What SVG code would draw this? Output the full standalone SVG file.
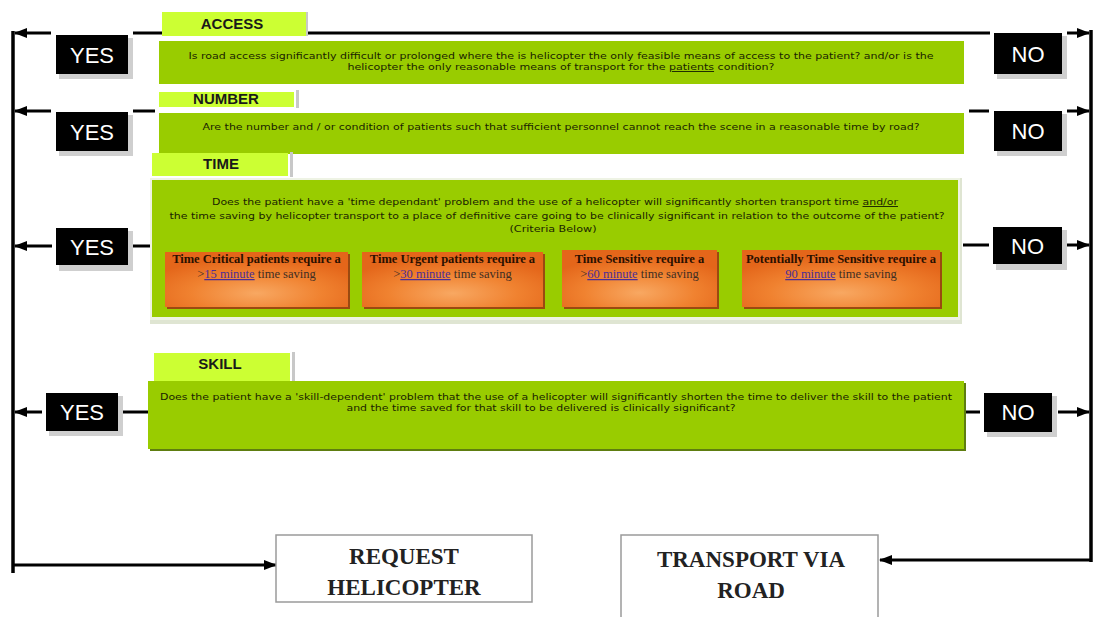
<svg xmlns="http://www.w3.org/2000/svg" width="1096" height="617" viewBox="0 0 1096 617">
<style>
.tab{fill:#ccff33}
.tabedge{fill:#c8c8c8}
.qbox{fill:#99cc00}
.qtext{font-family:"DejaVu Sans","Liberation Sans",sans-serif;font-size:9.5px;fill:#1a2400;text-anchor:middle}
.tabtext{font-family:"Liberation Sans",Arial,sans-serif;font-weight:bold;font-size:15px;fill:#1a1a1a;text-anchor:middle}
.ynb{fill:#000}
.yns{fill:#cfcfcf}
.ynt{font-family:"Liberation Sans",Arial,sans-serif;font-size:22px;fill:#fff;text-anchor:middle}
.ln{stroke:#000;stroke-width:3;fill:none}
.vl{stroke:#000;stroke-width:3.5;fill:none}
.ob{fill:url(#og)}
.obs{fill:#9a4a10}
.ot1{font-family:"Liberation Serif","Times New Roman",serif;font-weight:bold;font-size:12.5px;fill:#2a1000;text-anchor:middle}
.ot2{font-family:"Liberation Serif","Times New Roman",serif;font-size:12.5px;fill:#3e2e24;text-anchor:middle}
.lk{fill:#4b2d96;text-decoration:underline}
.ul{text-decoration:underline}
.eb{fill:#fff;stroke:#9a9a9a;stroke-width:1.5}
.et{font-family:"Liberation Serif","Times New Roman",serif;font-weight:bold;font-size:23px;fill:#222;text-anchor:middle}
</style>
<defs>
<marker id="ah" markerUnits="userSpaceOnUse" markerWidth="13" markerHeight="10" refX="12" refY="5" orient="auto">
<path d="M0,0 L13,5 L0,10 z" fill="#000"/>
</marker>
<radialGradient id="og" cx="0.5" cy="0.75" r="0.65">
<stop offset="0" stop-color="#f8a862"/>
<stop offset="0.55" stop-color="#f08230"/>
<stop offset="1" stop-color="#e4661a"/>
</radialGradient>
</defs>
<rect width="1096" height="617" fill="#fff"/>

<g id="connectors">
<line class="vl" x1="13" y1="31" x2="13" y2="573"/>
<line class="vl" x1="1091" y1="30" x2="1091" y2="562"/>
<line class="ln" x1="51" y1="33" x2="15" y2="33" marker-end="url(#ah)"/>
<line class="ln" x1="133" y1="33" x2="990" y2="33"/>
<line class="ln" x1="1067" y1="33" x2="1089" y2="33" marker-end="url(#ah)"/>
<line class="ln" x1="51" y1="111" x2="15" y2="111" marker-end="url(#ah)"/>
<line class="ln" x1="133" y1="111" x2="155" y2="111"/>
<line class="ln" x1="969" y1="111" x2="989" y2="111"/>
<line class="ln" x1="1067" y1="111" x2="1089" y2="111" marker-end="url(#ah)"/>
<line class="ln" x1="52" y1="246" x2="15" y2="246" marker-end="url(#ah)"/>
<line class="ln" x1="133" y1="246" x2="152" y2="246"/>
<line class="ln" x1="963" y1="245" x2="989" y2="245"/>
<line class="ln" x1="1067" y1="245" x2="1089" y2="245" marker-end="url(#ah)"/>
<line class="ln" x1="42" y1="412" x2="15" y2="412" marker-end="url(#ah)"/>
<line class="ln" x1="123" y1="412" x2="148" y2="412"/>
<line class="ln" x1="966" y1="412" x2="980" y2="412"/>
<line class="ln" x1="1058" y1="412" x2="1089" y2="412" marker-end="url(#ah)"/>
<line class="ln" x1="13" y1="565" x2="276" y2="565" marker-end="url(#ah)"/>
<line class="ln" x1="1091" y1="560" x2="880" y2="560" marker-end="url(#ah)"/>
</g>

<g id="access">
<rect class="tabedge" x="305" y="12" width="3" height="24"/>
<rect class="tab" x="162" y="12" width="144" height="24"/>
<text class="tabtext" x="232" y="29">ACCESS</text>
<rect class="qbox" x="159" y="41" width="805" height="43"/>
<text class="qtext" x="561" y="59" textLength="745" lengthAdjust="spacingAndGlyphs">Is road access significantly difficult or prolonged where the is helicopter the only feasible means of access to the patient? and/or is the</text>
<text class="qtext" x="561" y="70" textLength="427" lengthAdjust="spacingAndGlyphs">helicopter the only reasonable means of transport for the <tspan class="ul">patients</tspan> condition?</text>
</g>

<g id="number">
<rect class="tabedge" x="296" y="90" width="3" height="18"/>
<rect class="tab" x="159" y="92" width="135" height="15"/>
<text class="tabtext" x="226" y="104">NUMBER</text>
<rect class="qbox" x="159" y="113" width="805" height="41"/>
<text class="qtext" x="561" y="130" textLength="717" lengthAdjust="spacingAndGlyphs">Are the number and / or condition of patients such that sufficient personnel cannot reach the scene in a reasonable time by road?</text>
</g>

<g id="time">
<rect class="tabedge" x="290" y="152" width="3" height="25"/>
<rect class="tab" x="152" y="153" width="136" height="23"/>
<text class="tabtext" x="221" y="169">TIME</text>
<rect x="150" y="178" width="812" height="146" fill="#dfe5d2"/>
<rect x="150" y="178" width="810" height="142" fill="#eef3e4"/>
<rect class="qbox" x="152" y="180" width="806" height="137"/>
<text class="qtext" x="555" y="205" textLength="686" lengthAdjust="spacingAndGlyphs">Does the patient have a 'time dependant' problem and the use of a helicopter will significantly shorten transport time <tspan class="ul">and/or</tspan></text>
<text class="qtext" x="557" y="219" textLength="775" lengthAdjust="spacingAndGlyphs">the time saving by helicopter transport to a place of definitive care going to be clinically significant in relation to the outcome of the patient?</text>
<text class="qtext" x="553" y="232" textLength="87" lengthAdjust="spacingAndGlyphs">(Criteria Below)</text>
</g>

<g id="time-critical">
<rect class="obs" x="167" y="254" width="183" height="55"/>
<rect class="ob" x="165" y="252" width="183" height="55"/>
<text class="ot1" x="256.5" y="263">Time Critical patients require a</text>
<text class="ot2" x="256.5" y="278">&gt;<tspan class="lk">15 minute</tspan> time saving</text>
</g>
<g id="time-urgent">
<rect class="obs" x="364" y="254" width="181" height="55"/>
<rect class="ob" x="362" y="252" width="181" height="55"/>
<text class="ot1" x="452.5" y="263">Time Urgent patients require a</text>
<text class="ot2" x="452.5" y="278">&gt;<tspan class="lk">30 minute</tspan> time saving</text>
</g>
<g id="time-sensitive">
<rect class="obs" x="564" y="252" width="155" height="57"/>
<rect class="ob" x="562" y="250" width="155" height="57"/>
<text class="ot1" x="639.5" y="263">Time Sensitive require a</text>
<text class="ot2" x="639.5" y="278">&gt;<tspan class="lk">60 minute</tspan> time saving</text>
</g>
<g id="potentially-time-sensitive">
<rect class="obs" x="744" y="252" width="198" height="57"/>
<rect class="ob" x="742" y="250" width="198" height="57"/>
<text class="ot1" x="841" y="263">Potentially Time Sensitive require a</text>
<text class="ot2" x="841" y="278"><tspan class="lk">90 minute</tspan> time saving</text>
</g>

<g id="skill">
<rect class="tabedge" x="292" y="352" width="3" height="30"/>
<rect class="tab" x="154" y="353" width="136" height="29"/>
<text class="tabtext" x="220" y="369">SKILL</text>
<rect x="150" y="383" width="816" height="68" fill="#5e7d10"/>
<rect class="qbox" x="148" y="381" width="816" height="68"/>
<text class="qtext" x="556" y="400" textLength="792" lengthAdjust="spacingAndGlyphs">Does the patient have a 'skill-dependent' problem that the use of a helicopter will significantly shorten the time to deliver the skill to the patient</text>
<text class="qtext" x="541" y="411" textLength="389" lengthAdjust="spacingAndGlyphs">and the time saved for that skill to be delivered is clinically significant?</text>
</g>

<g id="yes-access"><rect class="yns" x="59" y="38" width="74" height="41"/><rect class="ynb" x="56" y="35" width="72" height="39"/><text class="ynt" x="92" y="63">YES</text></g>
<g id="yes-number"><rect class="yns" x="59" y="115" width="74" height="41"/><rect class="ynb" x="56" y="112" width="72" height="39"/><text class="ynt" x="92" y="140">YES</text></g>
<g id="yes-time"><rect class="yns" x="59" y="231" width="74" height="40"/><rect class="ynb" x="56" y="228" width="72" height="37"/><text class="ynt" x="92" y="255">YES</text></g>
<g id="yes-skill"><rect class="yns" x="49" y="396" width="74" height="40"/><rect class="ynb" x="46" y="393" width="72" height="38"/><text class="ynt" x="82" y="420">YES</text></g>

<g id="no-access"><rect class="yns" x="997" y="36" width="70" height="43"/><rect class="ynb" x="994" y="33" width="68" height="41"/><text class="ynt" x="1028" y="62">NO</text></g>
<g id="no-number"><rect class="yns" x="997" y="114" width="70" height="42"/><rect class="ynb" x="994" y="111" width="68" height="40"/><text class="ynt" x="1028" y="139">NO</text></g>
<g id="no-time"><rect class="yns" x="996" y="230" width="71" height="40"/><rect class="ynb" x="993" y="227" width="69" height="37"/><text class="ynt" x="1027.5" y="254">NO</text></g>
<g id="no-skill"><rect class="yns" x="987" y="396" width="70" height="41"/><rect class="ynb" x="984" y="393" width="68" height="39"/><text class="ynt" x="1018" y="420">NO</text></g>

<g id="request-helicopter">
<rect class="eb" x="276" y="535" width="256" height="67"/>
<text class="et" x="404" y="564">REQUEST</text>
<text class="et" x="404" y="595">HELICOPTER</text>
</g>
<g id="transport-road">
<rect class="eb" x="621" y="535" width="257" height="90"/>
<text class="et" x="751" y="567">TRANSPORT VIA</text>
<text class="et" x="751" y="598">ROAD</text>
</g>
</svg>
